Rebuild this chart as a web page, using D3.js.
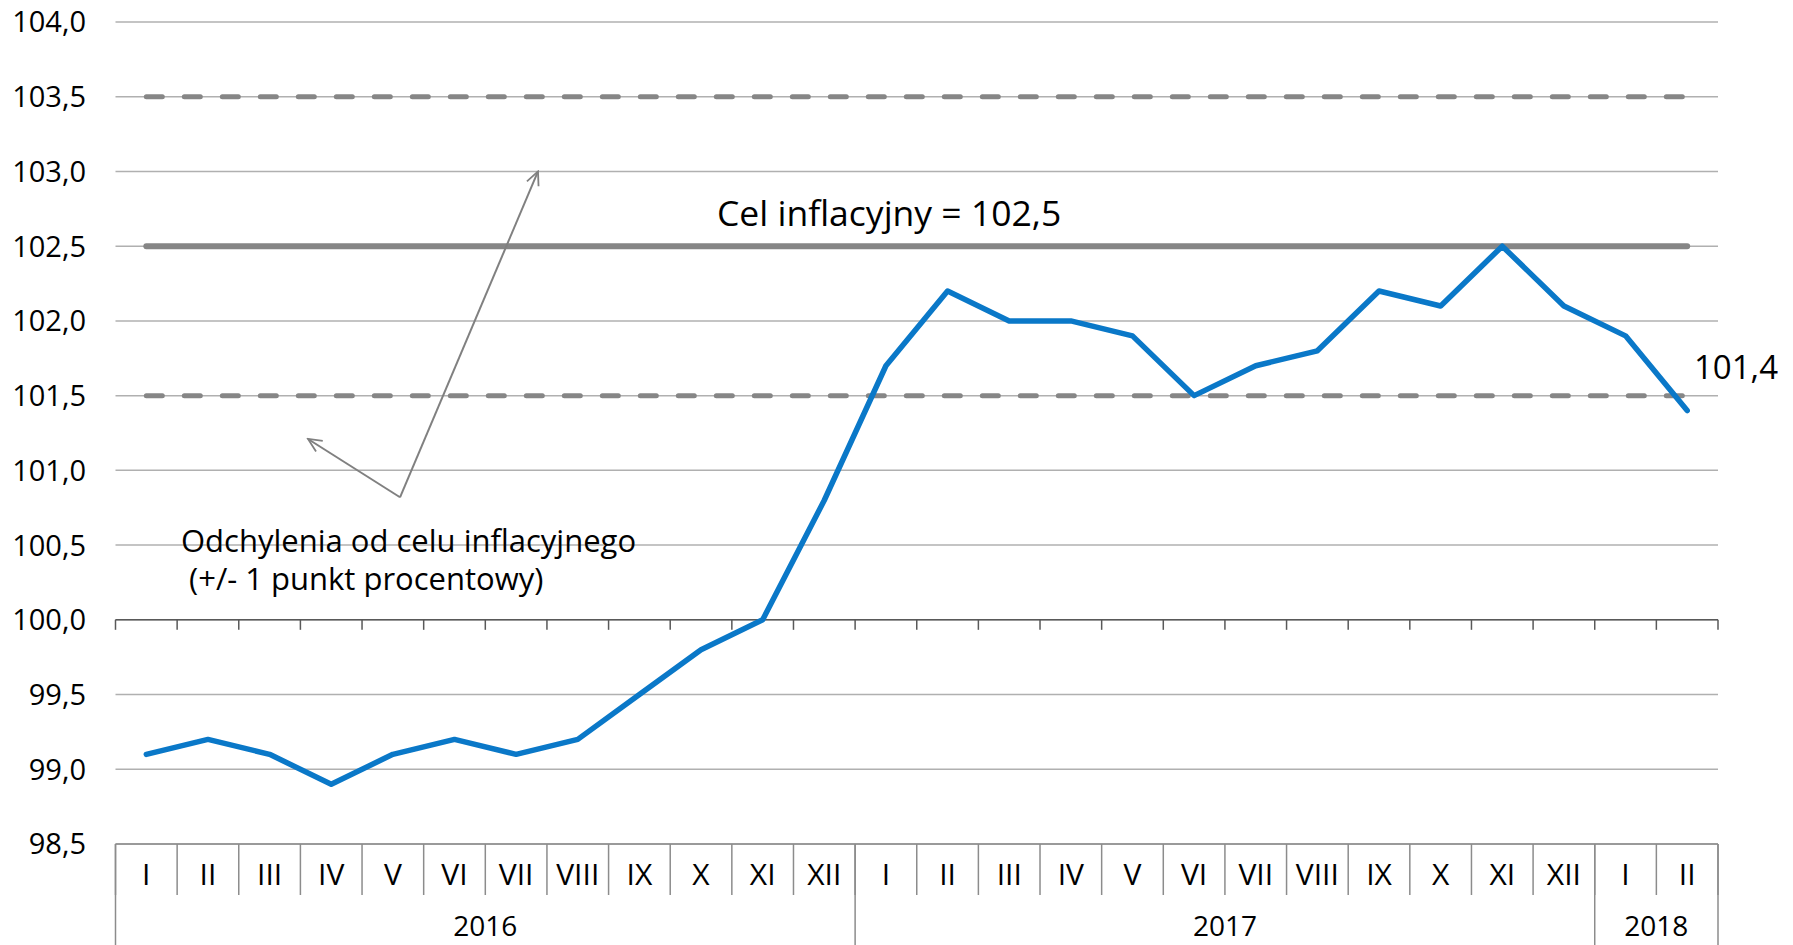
<!DOCTYPE html>
<html lang="pl">
<head>
<meta charset="utf-8">
<script src="https://d3js.org/d3.v7.min.js"></script>
<style>
    body { margin: 0; background: #fff; }
    text { font-family: "Open Sans", "Noto Sans", sans-serif; fill: #000; }
</style>
</head>
<body>
<svg id="chart" width="1793" height="945"></svg>
<script>
// data
const months = ["I","II","III","IV","V","VI","VII","VIII","IX","X","XI","XII",
                "I","II","III","IV","V","VI","VII","VIII","IX","X","XI","XII",
                "I","II"];
const years = ["2016", "2017", "2018"];
const yearMonths = [12, 12, 2];
const cpi = [99.1, 99.2, 99.1, 98.9, 99.1, 99.2, 99.1, 99.2, 99.5, 99.8, 100.0, 100.8,
             101.7, 102.2, 102.0, 102.0, 101.9, 101.5, 101.7, 101.8, 102.2, 102.1, 102.5, 102.1,
             101.9, 101.4];
const target = 102.5;
const bandLines = [103.5, 101.5];
const yTicks = [98.5, 99, 99.5, 100, 100.5, 101, 101.5, 102, 102.5, 103, 103.5, 104];

const svg = d3.select("#chart");
const margin = {top: 22, right: 75, bottom: 101, left: 115.5};
const width = 1793, height = 945;

const x = d3.scaleBand()
    .domain(d3.range(months.length))
    .range([margin.left, width - margin.right])
    .padding(0);
const y = d3.scaleLinear()
    .domain([98.5, 104])
    .range([height - margin.bottom, margin.top]);

const fmt = v => d3.format(".1f")(v).replace(".", ",");
const cx = i => x(i) + x.bandwidth() / 2;
const x0 = x.range()[0], x1 = x.range()[1];

// gridlines
svg.append("g")
    .selectAll("line")
    .data(yTicks)
    .join("line")
    .attr("x1", x0).attr("x2", x1)
    .attr("y1", d => y(d)).attr("y2", d => y(d))
    .attr("stroke", "#b0b0b0")
    .attr("stroke-width", 1.5);

// y labels
svg.append("g")
    .selectAll("text")
    .data(yTicks)
    .join("text")
    .attr("x", 86)
    .attr("y", d => y(d))
    .attr("dy", "0.36em")
    .attr("text-anchor", "end")
    .style("font-size", "29px")
    .text(fmt);

// category axis crossing at 100
const yAxis0 = y(100);
svg.append("line")
    .attr("x1", x0).attr("x2", x1)
    .attr("y1", yAxis0).attr("y2", yAxis0)
    .attr("stroke", "#595959").attr("stroke-width", 1.5);
svg.append("g")
    .selectAll("line")
    .data(d3.range(months.length + 1))
    .join("line")
    .attr("x1", i => i < months.length ? x(i) : x1)
    .attr("x2", i => i < months.length ? x(i) : x1)
    .attr("y1", yAxis0).attr("y2", yAxis0 + 10)
    .attr("stroke", "#595959").attr("stroke-width", 1.5);

// bottom multi-level labels
const yBase = y(98.5);
const rowMid = yBase + 51;
const tbl = svg.append("g").attr("stroke", "#8c8c8c").attr("stroke-width", 1.5);
tbl.append("line").attr("x1", x0).attr("x2", x1).attr("y1", yBase).attr("y2", yBase);
tbl.selectAll(".msep")
    .data(d3.range(months.length + 1))
    .join("line")
    .attr("class", "msep")
    .attr("x1", i => i < months.length ? x(i) : x1)
    .attr("x2", i => i < months.length ? x(i) : x1)
    .attr("y1", yBase).attr("y2", rowMid);

const yearStarts = d3.cumsum([0, ...yearMonths]);
tbl.selectAll(".ysep")
    .data(yearStarts)
    .join("line")
    .attr("class", "ysep")
    .attr("x1", i => i < months.length ? x(i) : x1)
    .attr("x2", i => i < months.length ? x(i) : x1)
    .attr("y1", yBase).attr("y2", height);

svg.append("g")
    .selectAll("text")
    .data(months)
    .join("text")
    .attr("x", (d, i) => cx(i))
    .attr("y", yBase + 41)
    .attr("text-anchor", "middle")
    .style("font-size", "30px")
    .text(d => d);

svg.append("g")
    .selectAll("text")
    .data(years)
    .join("text")
    .attr("x", (d, i) => {
        const s = yearStarts[i], e = yearStarts[i + 1];
        const xe = e < months.length ? x(e) : x1;
        return (x(s) + xe) / 2;
    })
    .attr("y", yBase + 92)
    .attr("text-anchor", "middle")
    .style("font-size", "28px")
    .text(d => d);

// tolerance band lines (dashed)
svg.append("g")
    .selectAll("line")
    .data(bandLines)
    .join("line")
    .attr("x1", cx(0)).attr("x2", cx(months.length - 1))
    .attr("y1", d => y(d)).attr("y2", d => y(d))
    .attr("stroke", "#868686")
    .attr("stroke-width", 5)
    .attr("stroke-linecap", "round")
    .attr("stroke-dasharray", "16 22");

// target line
svg.append("line")
    .attr("x1", cx(0)).attr("x2", cx(months.length - 1))
    .attr("y1", y(target)).attr("y2", y(target))
    .attr("stroke", "#868686")
    .attr("stroke-width", 6)
    .attr("stroke-linecap", "round");

svg.append("text")
    .attr("x", 717)
    .attr("y", 226)
    .style("font-size", "35.5px")
    .text("Cel inflacyjny = " + fmt(target));

// annotation arrows
const defs = svg.append("defs");
defs.append("marker")
    .attr("id", "arrow")
    .attr("viewBox", "0 0 20 20")
    .attr("refX", 18).attr("refY", 10)
    .attr("markerWidth", 18).attr("markerHeight", 18)
    .attr("markerUnits", "userSpaceOnUse")
    .attr("orient", "auto")
    .append("path")
    .attr("d", "M3,3 L18,10 L3,17")
    .attr("fill", "none")
    .attr("stroke", "#808080")
    .attr("stroke-width", 2);

const vx = 400, vy = y(100.82);
svg.append("line")
    .attr("x1", vx).attr("y1", vy)
    .attr("x2", 308).attr("y2", y(101.21))
    .attr("stroke", "#808080").attr("stroke-width", 2)
    .attr("marker-end", "url(#arrow)");
svg.append("line")
    .attr("x1", vx).attr("y1", vy)
    .attr("x2", 538).attr("y2", y(103))
    .attr("stroke", "#808080").attr("stroke-width", 2)
    .attr("marker-end", "url(#arrow)");

svg.append("text")
    .attr("x", 181).attr("y", 552)
    .style("font-size", "31px")
    .text("Odchylenia od celu inflacyjnego");
svg.append("text")
    .attr("x", 181).attr("y", 590)
    .attr("xml:space", "preserve")
    .style("font-size", "31px")
    .text(" (+/- 1 punkt procentowy)");

// CPI line
const line = d3.line()
    .x((d, i) => cx(i))
    .y(d => y(d));
svg.append("path")
    .datum(cpi)
    .attr("d", line)
    .attr("fill", "none")
    .attr("stroke", "#0a78c8")
    .attr("stroke-width", 5.5)
    .attr("stroke-linejoin", "round")
    .attr("stroke-linecap", "round");

svg.append("text")
    .attr("x", 1694)
    .attr("y", 379)
    .style("font-size", "33px")
    .text(fmt(cpi[cpi.length - 1]));
</script>
</body>
</html>
